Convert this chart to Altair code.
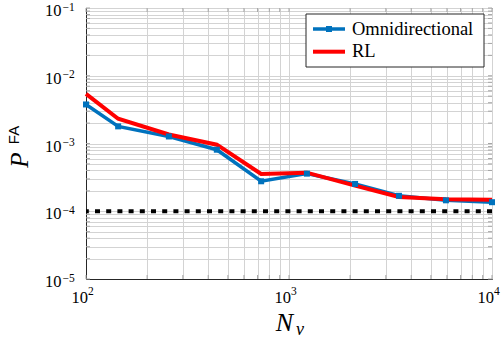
import altair as alt
import pandas as pd

# ---- data ----
nv = [100, 144, 256, 441, 729, 1225, 2116, 3481, 5929, 10000]
omni = [3.77e-3, 1.79e-3, 1.27e-3, 8.1e-4, 2.77e-4, 3.59e-4, 2.53e-4, 1.69e-4, 1.45e-4, 1.36e-4]
rl = [5.4e-3, 2.32e-3, 1.36e-3, 9.6e-4, 3.55e-4, 3.71e-4, 2.39e-4, 1.62e-4, 1.50e-4, 1.48e-4]
series_names = ["Omnidirectional", "RL"]
series_colors = ["#0072BD", "#FF0000"]
threshold = 1e-4

# tick labels
x_decades = [100, 1000, 10000]
x_exponents = ["2", "3", "4"]
y_decades = [1e-5, 1e-4, 1e-3, 1e-2, 1e-1]
y_exponents = ["\u22125", "\u22124", "\u22123", "\u22122", "\u22121"]

x_grid = [m * 10 ** e for e in (2, 3) for m in range(1, 10)] + [10000]
y_grid = [m * 10.0 ** e for e in (-5, -4, -3, -2) for m in range(1, 10)] + [0.1]

df = pd.DataFrame({
    "Nv": nv * 2,
    "Pfa": omni + rl,
    "series": [series_names[0]] * len(nv) + [series_names[1]] * len(nv),
})
xt = pd.DataFrame({"v": x_decades, "e": x_exponents})
yt = pd.DataFrame({"v": y_decades, "e": y_exponents})
xg = pd.DataFrame({"v": x_grid})
yg = pd.DataFrame({"v": y_grid})
one = pd.DataFrame({"a": [0]})

W, H = 406, 271
SERIF = "Times New Roman, Liberation Serif, Times, serif"
SANS = "Arial, Liberation Sans, Helvetica, sans-serif"
LBL = 16.5
EXP = 11.5
TICK_COLOR = "#a6a6a6"
TL = 4

xs = alt.Scale(type="log", domain=[100, 10000], nice=False)
ys = alt.Scale(type="log", domain=[1e-5, 1e-1], nice=False)

xax = alt.Axis(values=x_grid, labels=False, grid=True, gridColor="#d3d3d3",
               ticks=False, domainColor="#262626", title=None)
yax = alt.Axis(values=y_grid, labels=False, grid=True, gridColor="#d3d3d3",
               ticks=False, domainColor="#262626", title=None)

base = alt.Chart(df).encode(
    x=alt.X("Nv:Q", scale=xs, axis=xax),
    y=alt.Y("Pfa:Q", scale=ys, axis=yax),
)

# inward ticks (MATLAB style) on all four sides
yt_left = alt.Chart(yg).mark_rule(color=TICK_COLOR, strokeWidth=1).encode(
    y=alt.Y("v:Q", scale=ys), x=alt.value(0), x2=alt.value(TL))
yt_right = alt.Chart(yg).mark_rule(color=TICK_COLOR, strokeWidth=1).encode(
    y=alt.Y("v:Q", scale=ys), x=alt.value(W - TL), x2=alt.value(W))
xt_bottom = alt.Chart(xg).mark_rule(color=TICK_COLOR, strokeWidth=1).encode(
    x=alt.X("v:Q", scale=xs), y=alt.value(H - TL), y2=alt.value(H))
xt_top = alt.Chart(xg).mark_rule(color=TICK_COLOR, strokeWidth=1).encode(
    x=alt.X("v:Q", scale=xs), y=alt.value(0), y2=alt.value(TL))

thr = alt.Chart(pd.DataFrame({"t": [threshold]})).mark_rule(
    color="black", strokeWidth=4, strokeDash=[5, 6.2]
).encode(y=alt.Y("t:Q", scale=ys, axis=yax))

blue_line = base.transform_filter(alt.datum.series == series_names[0]).mark_line(
    color=series_colors[0], strokeWidth=3.5)
red_line = base.transform_filter(alt.datum.series == series_names[1]).mark_line(
    color=series_colors[1], strokeWidth=4)
blue_pts = base.transform_filter(alt.datum.series == series_names[0]).mark_point(
    shape="square", filled=True, size=36, color=series_colors[0], opacity=1)

# tick labels as base + exponent
xl_base = alt.Chart(xt).mark_text(text="10", font=SERIF, fontSize=LBL, align="right",
                                  baseline="alphabetic", dx=2, color="black").encode(
    x=alt.X("v:Q", scale=xs), y=alt.value(H + 24))
xl_exp = alt.Chart(xt).mark_text(font=SERIF, fontSize=EXP, align="left",
                                 baseline="alphabetic", dx=2, color="black").encode(
    x=alt.X("v:Q", scale=xs), y=alt.value(H + 16), text="e:N")
yl_base = alt.Chart(yt).mark_text(text="10", font=SERIF, fontSize=LBL, align="right",
                                  baseline="alphabetic", dy=8, color="black").encode(
    y=alt.Y("v:Q", scale=ys), x=alt.value(-24.5))
yl_exp = alt.Chart(yt).mark_text(font=SERIF, fontSize=EXP, align="left",
                                 baseline="alphabetic", dy=2.5, color="black").encode(
    y=alt.Y("v:Q", scale=ys), x=alt.value(-23.5), text="e:N")

# legend (manual, MATLAB style)
leg_box = alt.Chart(one).mark_rect(fill="white", stroke="#262626", strokeWidth=1).encode(
    x=alt.value(220), x2=alt.value(398), y=alt.value(6), y2=alt.value(59))
leg_l1 = alt.Chart(one).mark_rule(color=series_colors[0], strokeWidth=3.5).encode(
    x=alt.value(227), x2=alt.value(259), y=alt.value(21))
leg_m1 = alt.Chart(one).mark_point(shape="square", filled=True, size=36,
                                   color=series_colors[0], opacity=1).encode(
    x=alt.value(243), y=alt.value(21))
leg_l2 = alt.Chart(one).mark_rule(color=series_colors[1], strokeWidth=4).encode(
    x=alt.value(227), x2=alt.value(259), y=alt.value(43.7))
leg_t1 = alt.Chart(one).mark_text(text=series_names[0], font=SERIF, fontSize=18.5,
                                  align="left", baseline="alphabetic", color="black").encode(
    x=alt.value(266), y=alt.value(26.7))
leg_t2 = alt.Chart(one).mark_text(text=series_names[1], font=SERIF, fontSize=18.5,
                                  align="left", baseline="alphabetic", color="black").encode(
    x=alt.value(266), y=alt.value(48.7))

# axis titles
t_P = alt.Chart(one).mark_text(text="P", font=SERIF, fontSize=25, fontStyle="italic",
                               angle=270, align="center", baseline="middle",
                               color="black").encode(x=alt.value(-66.5), y=alt.value(152))
t_FA = alt.Chart(one).mark_text(text="FA", font=SANS, fontSize=15,
                                angle=270, align="center", baseline="middle",
                                color="black").encode(x=alt.value(-72), y=alt.value(127))
t_N = alt.Chart(one).mark_text(text="N", font=SERIF, fontSize=26, fontStyle="italic",
                               align="center", baseline="alphabetic",
                               color="black").encode(x=alt.value(198.5), y=alt.value(323))
t_v = alt.Chart(one).mark_text(text="v", font=SERIF, fontSize=18, fontStyle="italic",
                               align="center", baseline="alphabetic",
                               color="black").encode(x=alt.value(214), y=alt.value(327))

chart = alt.layer(
    yt_left, yt_right, xt_bottom, xt_top,
    thr, blue_line, red_line, blue_pts,
    xl_base, xl_exp, yl_base, yl_exp,
    leg_box, leg_l1, leg_m1, leg_l2, leg_t1, leg_t2,
    t_P, t_FA, t_N, t_v,
).properties(
    width=W, height=H,
    padding={"left": 86, "top": 8, "right": 12, "bottom": 61},
    autosize=alt.AutoSizeParams(type="none"),
).configure_view(stroke="#262626", strokeWidth=1)

chart.save("out.html", embed_options={"renderer": "svg", "actions": False})
